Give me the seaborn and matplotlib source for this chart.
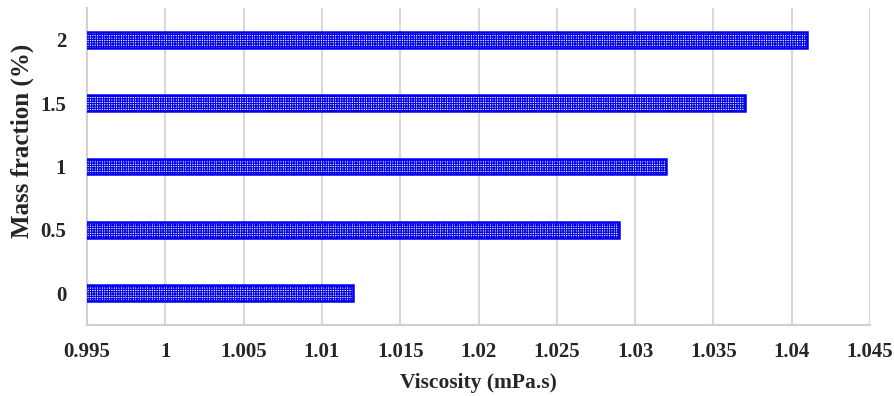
import pandas as pd
import seaborn as sns
import matplotlib.pyplot as plt

# values
mass_fraction = ['0', '0.5', '1', '1.5', '2']
viscosity = [1.012, 1.029, 1.032, 1.037, 1.041]
x_ticks = [0.995, 1, 1.005, 1.01, 1.015, 1.02, 1.025, 1.03, 1.035, 1.04, 1.045]

df = pd.DataFrame({'Mass fraction': mass_fraction, 'Viscosity': viscosity})

sns.set_style("white")
plt.rcParams['font.family'] = ['Liberation Serif', 'DejaVu Serif']
plt.rcParams['font.weight'] = 'bold'
plt.rcParams['hatch.linewidth'] = 0.8

fig = plt.figure(figsize=(8.95, 3.96), dpi=100)
ax = fig.add_axes([87 / 895, 71 / 396, 783 / 895, 317 / 396])

sns.barplot(data=df, x='Viscosity', y='Mass fraction', orient='h',
            order=mass_fraction[::-1], width=0.25, color='white',
            edgecolor='#0000ee', linewidth=1.8, hatch='+++++++', ax=ax,
            zorder=3)

ax.set_xlim(0.995, 1.045)
ax.set_xticks(x_ticks)
ax.set_xticklabels([f'{t:g}' for t in x_ticks], fontsize=15, fontweight='bold')
ax.tick_params(axis='x', length=6, width=1.5, color='#d9d9d9', pad=6)
ax.tick_params(axis='y', length=0, pad=15, labelsize=15)
for lab in ax.get_yticklabels():
    lab.set_fontweight('bold')

ax.grid(axis='x', color='#d9d9d9', linewidth=1.5, zorder=0)
ax.set_axisbelow(True)
for side in ['top', 'right']:
    ax.spines[side].set_visible(False)
for side in ['left', 'bottom']:
    ax.spines[side].set_color('#d0d0d0')
    ax.spines[side].set_linewidth(1.5)

ax.set_xlabel('Viscosity (mPa.s)', fontsize=15.5, fontweight='bold', labelpad=8)
ax.set_ylabel('Mass fraction (%)', fontsize=18, fontweight='bold')
ax.yaxis.set_label_coords(-0.068, 0.58)

plt.savefig('out.png', dpi=100)
